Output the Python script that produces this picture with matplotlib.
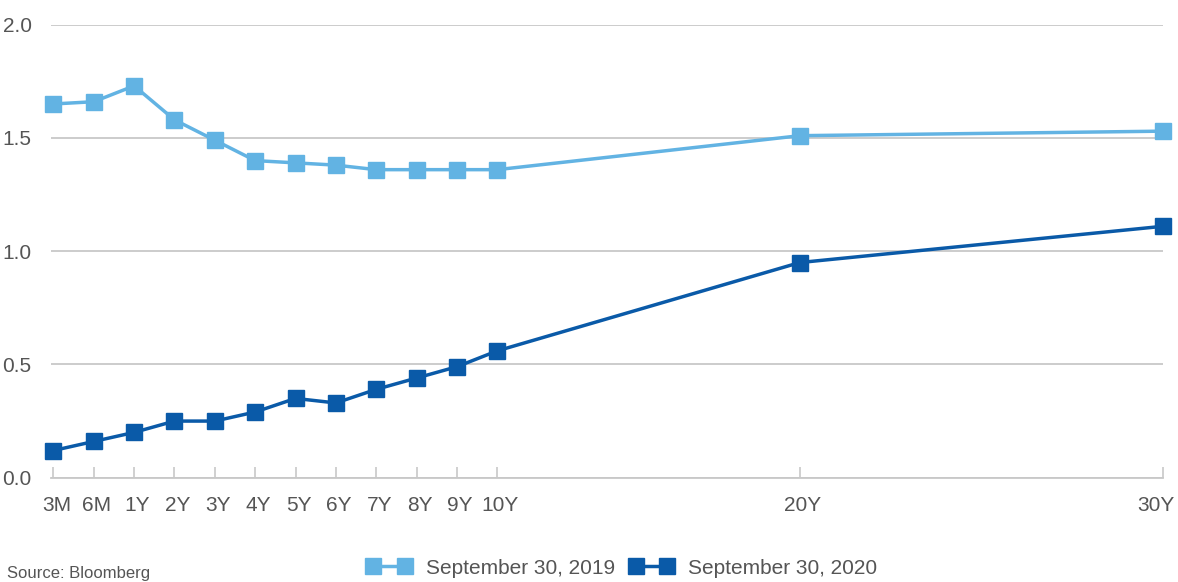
import matplotlib.pyplot as plt
from matplotlib.transforms import ScaledTranslation

plt.rcParams['font.family'] = ['Liberation Sans', 'DejaVu Sans']

tenors = ["3M", "6M", "1Y", "2Y", "3Y", "4Y", "5Y", "6Y", "7Y", "8Y", "9Y", "10Y", "20Y", "30Y"]
# horizontal spacing of the tenors on the original axis
tenor_pos = [0, 1, 2, 3, 4, 5, 6, 7, 8, 9, 10, 11, 18.5, 27.5]

yield_2019 = [1.65, 1.66, 1.73, 1.58, 1.49, 1.40, 1.39, 1.38, 1.36, 1.36, 1.36, 1.36, 1.51, 1.53]
yield_2020 = [0.12, 0.16, 0.20, 0.25, 0.25, 0.29, 0.35, 0.33, 0.39, 0.44, 0.49, 0.56, 0.95, 1.11]

light = '#62b3e3'
dark = '#0a5aa8'
grey_text = '#555555'
grid_col = '#c8c8c8'

fig = plt.figure(figsize=(11.78, 5.82), dpi=100)
ax = fig.add_axes([51 / 1178, 1 - 477.7 / 582, 1112 / 1178, 453 / 582])

ax.plot(tenor_pos, yield_2019, color=light, lw=2.5, marker='s', ms=11.5,
        label='September 30, 2019', clip_on=False, zorder=3)
ax.plot(tenor_pos, yield_2020, color=dark, lw=2.5, marker='s', ms=11.5,
        label='September 30, 2020', clip_on=False, zorder=3)

ax.set_xlim(-0.06, 27.5)
ax.set_ylim(0, 2.0)
ax.set_yticks([0.0, 0.5, 1.0, 1.5, 2.0])
ax.set_yticklabels(['0.0', '0.5', '1.0', '1.5', '2.0'])
ax.set_xticks(tenor_pos)
ax.set_xticklabels(tenors)

ax.grid(axis='y', color=grid_col, lw=1.3)
ax.set_axisbelow(True)
for s in ['top', 'right', 'left']:
    ax.spines[s].set_visible(False)
ax.spines['bottom'].set_color(grid_col)
ax.spines['bottom'].set_linewidth(1.3)

ax.tick_params(axis='x', direction='in', length=8, width=1.2, color=grid_col,
               labelsize=15, labelcolor=grey_text, pad=13)
ax.tick_params(axis='y', length=0, labelsize=15, labelcolor=grey_text, pad=14)

# labels sit a little right of their ticks in the original
shift = ScaledTranslation(3 / 100, 0, fig.dpi_scale_trans)
xlabels = ax.get_xticklabels()
for lbl in xlabels[:-1]:
    lbl.set_transform(lbl.get_transform() + shift)
# keep the last one inside the figure
xlabels[-1].set_horizontalalignment('right')
xlabels[-1].set_transform(xlabels[-1].get_transform()
                          + ScaledTranslation(12 / 100, 0, fig.dpi_scale_trans))

fig.legend(loc='center', bbox_to_anchor=(622 / 1178, 1 - 568 / 582), ncol=2,
           frameon=False, fontsize=15, labelcolor=grey_text, numpoints=2,
           handlelength=2.1, handletextpad=0.7, columnspacing=0.7)

fig.text(7 / 1178, 1 / 582, 'Source: Bloomberg', fontsize=12,
         color=grey_text, va='bottom', ha='left')

fig.savefig('out.png', dpi=100)
